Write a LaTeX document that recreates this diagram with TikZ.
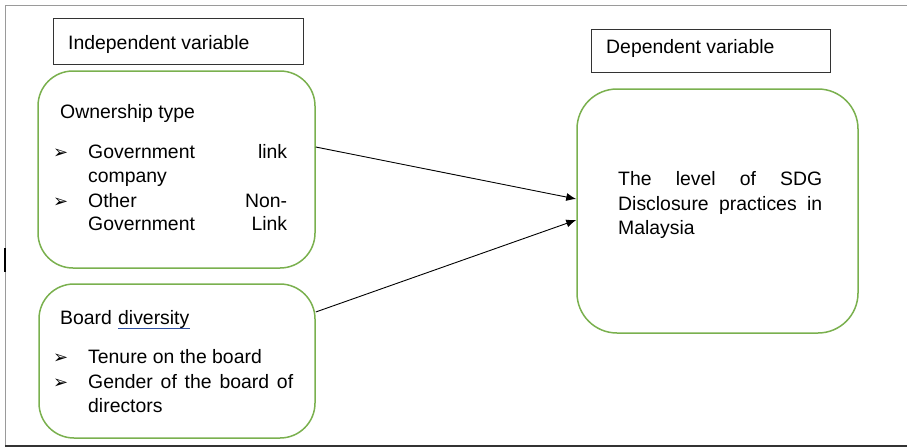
\documentclass[tikz,border=0pt]{standalone}
\usepackage{fontspec}
\setmainfont{Liberation Sans}
\newfontfamily\arrowfont{DejaVu Sans}
\usetikzlibrary{arrows.meta}
\definecolor{myGreen}{HTML}{7AB04E}
\definecolor{myBlue}{HTML}{2E4FA3}
\definecolor{myGray}{HTML}{9A9A9A}
\newcommand{\bul}{{\arrowfont\fontsize{18}{18}\selectfont ➢}}

\begin{document}
\begin{tikzpicture}[x=1pt, y=-1pt, >={Latex[length=10pt,width=8pt]}, font=\fontsize{19.4}{24}\selectfont]

  \tikzstyle{L}=[rectangle, draw=black!80, line width=0.8pt, inner sep=0pt]
  \tikzstyle{G}=[rectangle, draw=myGreen, line width=1.5pt, rounded corners=35pt, inner sep=0pt]
  \tikzstyle{T}=[inner sep=0pt, anchor=base west]
  \tikzstyle{A}=[->, line width=0.9pt, black]

  \useasboundingbox (0,0) rectangle (907,447);
  \draw[myGray, line width=1pt] (907,5) -- (5,5) -- (5,446);
  \draw[black!80, line width=1.5pt] (5,446) -- (907,446);
  \draw[black, line width=2.5pt] (5,248) -- (5,272);

  % heading boxes
  \node[L, minimum width=250pt, minimum height=46pt] at (178,41) (indep) {};
  \node[L, minimum width=239pt, minimum height=43pt] at (710.5,50.5) (deplabel) {};
  \node[T] at (68,49) (indeptext) {Independent variable};
  \node[T] at (606,53) (deplabeltext) {Dependent variable};

  % green boxes
  \node[G, minimum width=277pt, minimum height=197pt] at (176.5,169.5) (own) {};
  \node[G, minimum width=276pt, minimum height=154pt] at (177,361) (brd) {};
  \node[G, rounded corners=40pt, minimum width=281pt, minimum height=244pt] at (717.5,211) (dep) {};

  \node[T] at (60,118) (owntitle) {Ownership type};
  \node[T] at (53,158) (ownbul1) {\bul};
  \node[T] at (88,158) (own1) {\makebox[199pt][s]{Government link}};
  \node[T] at (88,182) (own2) {company};
  \node[T] at (53,207) (ownbul2) {\bul};
  \node[T] at (88,207) (own3) {\makebox[199pt][s]{Other Non-}};
  \node[T] at (88,230) (own4) {\makebox[199pt][s]{Government Link}};

  \node[T] at (60,324) (brdtitle) {Board};
  \node[T] at (118,324) (brddiv) {diversity};
  \draw[myBlue, line width=1pt] ([yshift=-4pt]brddiv.base west) -- ([yshift=-4pt]brddiv.base east);
  \node[T] at (53,363) (brdbul1) {\bul};
  \node[T] at (88,363) (brd1) {Tenure on the board};
  \node[T] at (53,388) (brdbul2) {\bul};
  \node[T] at (88,388) (brd2) {\makebox[205pt][s]{Gender of the board of}};
  \node[T] at (88,412) (brd3) {directors};

  \node[T] at (618,185) (dep1) {\makebox[204pt][s]{The level of SDG}};
  \node[T] at (618,210) (dep2) {\makebox[204pt][s]{Disclosure practices in}};
  \node[T] at (618,234) (dep3) {Malaysia};

  \draw[A] ([yshift=22.5pt]own.east) to ([yshift=12pt]dep.west);
  \draw[A] ([yshift=49pt]brd.east) to ([yshift=-9pt]dep.west);

\end{tikzpicture}
\end{document}
